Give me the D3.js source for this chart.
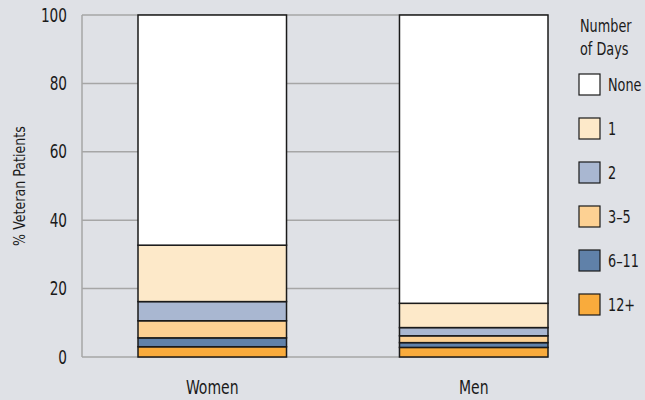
<!DOCTYPE html>
<html>
<head>
<meta charset="utf-8">
<script src="https://cdn.jsdelivr.net/npm/d3@7"></script>
<style>
  body { margin: 0; background: #dfe1e6; }
  text { font-family: "DejaVu Sans Condensed", "Liberation Sans Narrow", sans-serif; fill: #1a1a1a; }
  /* squeeze text to look like the condensed face of the original */
  .nr-end { transform-box: fill-box; transform-origin: 100% 50%; transform: scaleX(0.8); }
  .nr-mid { transform-box: fill-box; transform-origin: 50% 50%; transform: scaleX(0.82); }
  .nr-start { transform-box: fill-box; transform-origin: 0% 50%; transform: scaleX(0.84); }
</style>
</head>
<body>
<div id="chartDiv"></div>
<script>
// categories and stacked series (bottom to top)
var groups = ["Women", "Men"];
var dayKeys = ["12+", "6–11", "3–5", "2", "1", "None"];
var womenVals = [3.0, 2.6, 5.0, 5.6, 16.5, 67.3];
var menVals = [2.8, 1.4, 2.0, 2.4, 7.1, 84.3];
var yTicks = [0, 20, 40, 60, 80, 100];
var legendOrder = ["None", "1", "2", "3–5", "6–11", "12+"];
var colors = ["#f9ab3c", "#6081a9", "#fdd193", "#a9b7d1", "#fde9c9", "#ffffff"];

var width = 645, height = 400;
var plot = { left: 82, right: 548, top: 15, bottom: 357 };

// build rows for d3.stack
var rows = groups.map(function(g, gi) {
  var row = { group: g };
  var vals = gi == 0 ? womenVals : menVals;
  dayKeys.forEach(function(k, i) { row[k] = vals[i]; });
  return row;
});

var series = d3.stack().keys(dayKeys)(rows);

var svg = d3.select("#chartDiv").append("svg")
  .attr("width", width)
  .attr("height", height);

svg.append("rect").attr("width", width).attr("height", height).attr("fill", "#dfe1e6");

var x = d3.scaleBand()
  .domain(groups)
  .range([138, plot.right])
  .paddingInner(0.432)
  .paddingOuter(0);

var y = d3.scaleLinear()
  .domain([0, 100])
  .range([plot.bottom, plot.top]);

var color = d3.scaleOrdinal().domain(dayKeys).range(colors);

// gridlines
svg.append("g").selectAll("line")
  .data(yTicks)
  .enter().append("line")
    .attr("x1", plot.left)
    .attr("x2", plot.right)
    .attr("y1", function(d) { return y(d); })
    .attr("y2", function(d) { return y(d); })
    .attr("stroke", "#a6a6a6")
    .attr("stroke-width", 1.5);

// left axis line
svg.append("line")
  .attr("x1", plot.left).attr("x2", plot.left)
  .attr("y1", y(100)).attr("y2", y(0))
  .attr("stroke", "#a6a6a6").attr("stroke-width", 1.5);

// y axis labels
var yAxis = d3.axisLeft(y).tickValues(yTicks).tickSize(0).tickPadding(15);
var yg = svg.append("g")
  .attr("transform", "translate(" + plot.left + ",0)")
  .call(yAxis);
yg.select(".domain").remove();
yg.selectAll("text")
  .attr("class", "nr-end")
  .style("font-size", "19px")
  .style("font-family", "'DejaVu Sans Condensed', 'Liberation Sans Narrow', sans-serif")
  .attr("fill", "#1a1a1a");

svg.append("text")
  .attr("text-anchor", "middle")
  .attr("transform", "translate(25," + ((plot.top + plot.bottom) / 2) + ") rotate(-90) scale(0.88,1)")
  .style("font-size", "16px")
  .text("% Veteran Patients");

// bars
svg.append("g").selectAll("g")
  .data(series)
  .enter().append("g")
    .attr("fill", function(d) { return color(d.key); })
  .selectAll("rect")
  .data(function(d) { return d; })
  .enter().append("rect")
    .attr("x", function(d) { return x(d.data.group); })
    .attr("y", function(d) { return y(d[1]); })
    .attr("width", x.bandwidth())
    .attr("height", function(d) { return y(d[0]) - y(d[1]); })
    .attr("stroke", "#1a1a1a")
    .attr("stroke-width", 1.5);

// x category labels
var xAxis = d3.axisBottom(x).tickSize(0).tickPadding(24);
var xg = svg.append("g")
  .attr("transform", "translate(0," + plot.bottom + ")")
  .call(xAxis);
xg.select(".domain").remove();
xg.selectAll("text")
  .attr("class", "nr-mid")
  .style("font-size", "19px")
  .style("font-family", "'DejaVu Sans Condensed', 'Liberation Sans Narrow', sans-serif")
  .attr("fill", "#1a1a1a");

// legend
var lg = svg.append("g");
lg.append("text").attr("class", "nr-start").attr("x", 580).attr("y", 32).style("font-size", "17px").text("Number");
lg.append("text").attr("class", "nr-start").attr("x", 580).attr("y", 55).style("font-size", "17px").text("of Days");

var items = lg.selectAll(".item")
  .data(legendOrder)
  .enter().append("g")
    .attr("class", "item")
    .attr("transform", function(d, i) { return "translate(579," + (74 + i * 44) + ")"; });

items.append("rect")
  .attr("width", 21).attr("height", 21)
  .attr("fill", function(d) { return color(d); })
  .attr("stroke", "#1a1a1a")
  .attr("stroke-width", 1.2);

items.append("text")
  .attr("class", "nr-start")
  .attr("x", 29)
  .attr("y", 11)
  .attr("dy", "0.36em")
  .style("font-size", "17px")
  .text(function(d) { return d; });
</script>
</body>
</html>
